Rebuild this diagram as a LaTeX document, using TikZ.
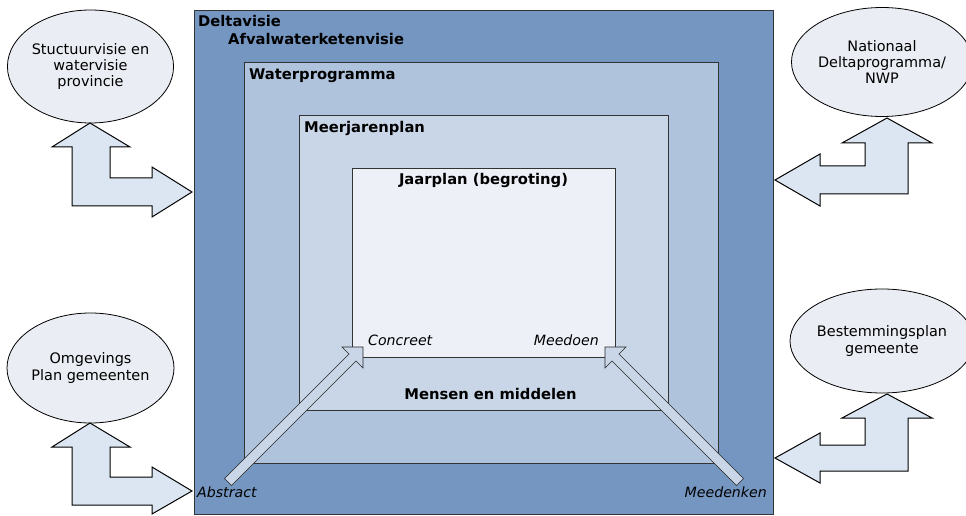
\documentclass[tikz,border=0pt]{standalone}
\usepackage{fontspec}
\setmainfont{DejaVu Sans}
\usetikzlibrary{shapes.geometric}

\definecolor{deltablue}{RGB}{116,150,193}
\definecolor{progblue}{RGB}{176,195,220}
\definecolor{planblue}{RGB}{201,214,231}
\definecolor{jaarblue}{RGB}{237,241,247}
\definecolor{bubblegray}{RGB}{234,237,243}
\definecolor{arrowblue}{RGB}{220,230,242}

\begin{document}
\begin{tikzpicture}[
    x=1bp, y=-1bp,
    laag/.style={
        rectangle,
        draw=black!80,
        line width=1bp,
        anchor=north west,
        inner sep=0pt
    },
    titel/.style={
        font=\fontsize{14.8}{17}\selectfont\bfseries,
        inner sep=0pt,
        anchor=base west
    },
    schuin/.style={
        font=\fontsize{14.2}{17}\selectfont\itshape,
        inner sep=0pt
    },
    bubble/.style={
        ellipse,
        draw=black,
        line width=0.8bp,
        fill=bubblegray,
        align=center,
        inner sep=0pt,
        font=\fontsize{14.5}{16.5}\selectfont
    },
    blokpijl/.style={
        draw=black,
        line width=1bp,
        fill=arrowblue
    },
    schuinpijl/.style={
        draw=black!85,
        line width=0.6bp,
        fill=planblue
    }
]
    \useasboundingbox (0,0) rectangle (966,516);

    % lagen (van buiten naar binnen)
    \node[laag, fill=deltablue, minimum width=579bp, minimum height=504bp] (delta) at (194,10) {};
    \node[laag, fill=progblue, minimum width=474bp, minimum height=401bp] (prog) at (244,62) {};
    \node[laag, fill=planblue, minimum width=369bp, minimum height=295bp] (meerjaren) at (299,115) {};
    \node[laag, fill=jaarblue, minimum width=263bp, minimum height=189bp] (jaar) at (352,168) {};

    % titels van de lagen
    \node[titel] (deltatxt) at (198,27) {Deltavisie};
    \node[titel] (afvaltxt) at (228,45) {Afvalwaterketenvisie};
    \node[titel] (progtxt) at (249,80) {Waterprogramma};
    \node[titel] (meerjarentxt) at (304,133) {Meerjarenplan};
    \node[titel, anchor=base] (jaartxt) at (483.5,185) {Jaarplan (begroting)};
    \node[titel, anchor=base] (mensen) at (490.5,399) {Mensen en middelen};

    % schuine pijlen
    \draw[schuinpijl] (363,347) -- (363,368) -- (356,361) -- (231.5,485.5)
        -- (224.5,478.5) -- (349,354) -- (342,347) -- cycle;
    \draw[schuinpijl] (605,347) -- (626,347) -- (619,354) -- (743.5,478.5)
        -- (736.5,485.5) -- (612,361) -- (605,368) -- cycle;

    \node[schuin, anchor=base west] (concreet) at (368,346) {Concreet};
    \node[schuin, anchor=base east] (meedoen) at (599,346) {Meedoen};
    \node[schuin, anchor=base west] (abstract) at (197,497) {Abstract};
    \node[schuin, anchor=base east] (meedenken) at (767,497) {Meedenken};

    % ellipsen
    \node[bubble, minimum width=161bp, minimum height=113bp] (provincie) at (90.5,66.5)
        {Stuctuurvisie en\\watervisie\\provincie};
    \node[bubble, minimum width=161bp, minimum height=110bp] (gemeenten) at (90.5,368)
        {Omgevings\\Plan gemeenten};
    \node[bubble, minimum width=169bp, minimum height=109bp] (nwp) at (882,62)
        {Nationaal\\Deltaprogramma/\\NWP};
    \node[bubble, minimum width=169bp, minimum height=104bp] (bestemming) at (882,341)
        {Bestemmingsplan\\gemeente};

    % blokpijlen
    \draw[blokpijl] (90,123) -- (130,147) -- (110,147) -- (110,178) -- (152,178)
        -- (152,167) -- (192,192) -- (152,217) -- (152,206) -- (72,206)
        -- (72,147) -- (52,147) -- cycle;
    \draw[blokpijl] (90,423) -- (130,447) -- (110,447) -- (110,477) -- (152,477)
        -- (152,467) -- (192,491) -- (152,514) -- (152,505) -- (72,505)
        -- (72,447) -- (52,447) -- cycle;
    \draw[blokpijl] (887,118) -- (932,143) -- (908,143) -- (908,194) -- (820,194)
        -- (820,206) -- (775,180) -- (820,154) -- (820,166) -- (865,166)
        -- (865,143) -- (842,143) -- cycle;
    \draw[blokpijl] (887,394) -- (932,418) -- (908,418) -- (908,471) -- (820,471)
        -- (820,483) -- (775,458) -- (820,433) -- (820,445) -- (865,445)
        -- (865,418) -- (842,418) -- cycle;

\end{tikzpicture}
\end{document}
